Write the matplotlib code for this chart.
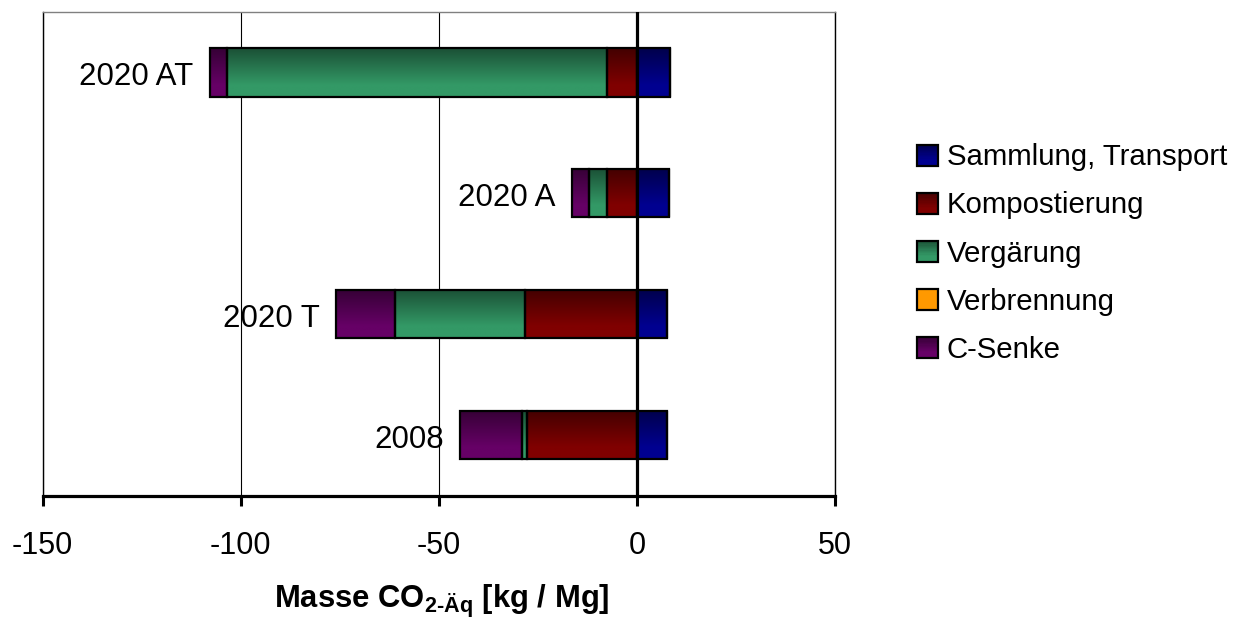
import numpy as np
import matplotlib
matplotlib.use("Agg")
import matplotlib.pyplot as plt
from matplotlib.patches import Rectangle, Patch
from matplotlib.legend_handler import HandlerBase
from matplotlib.colors import to_rgb

plt.rcParams['font.family'] = ['Liberation Sans', 'DejaVu Sans']
plt.rcParams['axes.unicode_minus'] = False
plt.rcParams['mathtext.fontset'] = 'custom'
plt.rcParams['mathtext.rm'] = 'Liberation Sans:bold'
plt.rcParams['mathtext.bf'] = 'Liberation Sans:bold'
plt.rcParams['mathtext.it'] = 'Liberation Sans:bold'

# ---- data (bottom to top) ----
categories = ['2008', '2020 T', '2020 A', '2020 AT']
sammlung_transport = [7.6, 7.7, 8.2, 8.3]
kompostierung = [-27.8, -28.3, -7.6, -7.6]
vergaerung = [-1.3, -32.7, -4.5, -96.0]
verbrennung = [0.0, 0.0, 0.0, 0.0]
c_senke = [-15.5, -14.9, -4.2, -4.2]

series_names = ['Sammlung, Transport', 'Kompostierung', 'Vergärung', 'Verbrennung', 'C-Senke']
series_values = [sammlung_transport, kompostierung, vergaerung, verbrennung, c_senke]
series_colors = ['#000090', '#800000', '#339966', '#FF9900', '#660066']
series_gradient = [True, True, True, False, True]

x_ticks = [-150, -100, -50, 0, 50]


def grad_color(base, t, use_grad=True):
    """t: 0 at top, 1 at bottom"""
    b = np.array(to_rgb(base))
    if not use_grad:
        return b
    dark = b * 0.52
    f = min(t / 0.75, 1.0)
    return dark + (b - dark) * f


def grad_image(base, use_grad=True, n=64):
    rows = []
    for i in range(n):
        t = 1 - (i + 0.5) / n   # row 0 at bottom (origin lower)
        rows.append(grad_color(base, t, use_grad))
    return np.array(rows).reshape(n, 1, 3)


class GradHandler(HandlerBase):
    def __init__(self, base, use_grad):
        super().__init__()
        self.base = base
        self.use_grad = use_grad

    def create_artists(self, legend, orig_handle, xdescent, ydescent,
                       width, height, fontsize, trans):
        arts = []
        n = 16
        for i in range(n):
            t = (i + 0.5) / n
            col = grad_color(self.base, t, self.use_grad)
            r = Rectangle((-xdescent, -ydescent + height * (1 - (i + 1) / n)),
                          width, height / n + 0.3, facecolor=col,
                          edgecolor='none', transform=trans)
            arts.append(r)
        border = Rectangle((-xdescent, -ydescent), width, height,
                           facecolor='none', edgecolor='black', lw=1.6,
                           transform=trans)
        arts.append(border)
        return arts


fig = plt.figure(figsize=(12.41, 6.18), dpi=100)
ax = fig.add_axes([42.7 / 1241, 1 - 495.5 / 618, (835 - 42.7) / 1241, (495.5 - 12) / 618])

y = np.arange(len(categories))
bar_h = 0.4

pos_left = np.zeros(len(categories))
neg_left = np.zeros(len(categories))
for name, vals, col, ug in zip(series_names, series_values, series_colors, series_gradient):
    vals = np.array(vals, dtype=float)
    lefts = np.where(vals >= 0, pos_left, neg_left)
    bars = ax.barh(y, vals, height=bar_h, left=lefts, facecolor='none',
                   edgecolor='black', linewidth=1.6, zorder=4)
    for b, v in zip(bars, vals):
        if v == 0:
            continue
        x0, y0 = b.get_x(), b.get_y()
        x1, y1 = x0 + b.get_width(), y0 + b.get_height()
        im = ax.imshow(grad_image(col, ug), extent=(min(x0, x1), max(x0, x1), y0, y1),
                       origin='lower', aspect='auto', zorder=3, interpolation='bilinear')
        im.set_clip_path(b)
    pos_left = pos_left + np.where(vals >= 0, vals, 0)
    neg_left = neg_left + np.where(vals < 0, vals, 0)

# category labels at left end of stacks
for yi, cat, left in zip(y, categories, neg_left):
    ax.annotate(cat, xy=(left, yi), xytext=(-12, -9), textcoords='offset points',
                ha='right', va='baseline', fontsize=22.5, zorder=6)

ax.set_xlim(-150, 50)
ax.set_ylim(-0.5, len(categories) - 0.5)
ax.set_xticks(x_ticks)
ax.set_xticklabels([str(t) for t in x_ticks])
ax.set_yticks([])
ax.xaxis.grid(True, color='black', linewidth=0.8)
ax.set_axisbelow(True)
ax.axvline(0, color='black', linewidth=2.3, zorder=5)

ax.spines['bottom'].set_linewidth(2.3)
ax.spines['left'].set_linewidth(1.0)
ax.spines['right'].set_linewidth(1.0)
ax.spines['top'].set_linewidth(1.0)
ax.spines['top'].set_color('#808080')
ax.tick_params(axis='x', direction='out', length=7.5, width=2.2, pad=18, labelsize=22)

fig.text(441.5 / 1241, 10.0 / 618, r'Masse CO$_{\text{2-Äq}}$ [kg / Mg]',
         ha='center', va='baseline', fontsize=22.3, fontweight='bold')

handles = []
hmap = {}
for name, col, ug in zip(series_names, series_colors, series_gradient):
    p = Patch(facecolor=col, edgecolor='black', label=name)
    handles.append(p)
    hmap[p] = GradHandler(col, ug)

fig.legend(handles=handles, handler_map=hmap, loc='center left',
           bbox_to_anchor=(916.7 / 1241, 1 - 253.5 / 618), frameon=False,
           fontsize=21.2, handlelength=0.72, handleheight=0.72, handletextpad=0.3,
           labelspacing=0.68, borderpad=0, borderaxespad=0)

fig.savefig('out.png', dpi=100)
